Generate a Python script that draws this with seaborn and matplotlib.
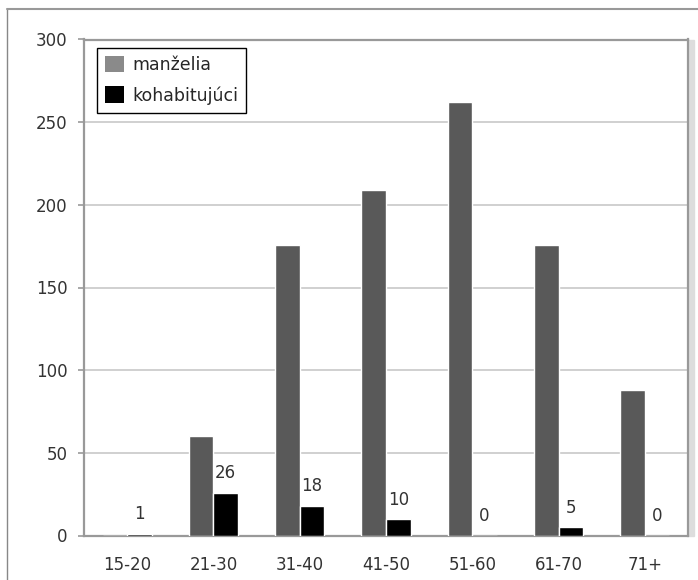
import pandas as pd
import seaborn as sns
import matplotlib.pyplot as plt
from matplotlib.patches import Patch, Rectangle
from matplotlib.lines import Line2D

# data
vek = ["15-20", "21-30", "31-40", "41-50", "51-60", "61-70", "71+"]
manzelia = [0, 60, 176, 209, 262, 176, 88]
kohabitujuci = [1, 26, 18, 10, 0, 5, 0]
skupiny = ["manželia", "kohabitujúci"]

df = pd.DataFrame({
    "vek": vek * 2,
    "pocet": manzelia + kohabitujuci,
    "skupina": [skupiny[0]] * len(vek) + [skupiny[1]] * len(vek),
})

sns.set_style("white")
plt.rcParams["font.family"] = ["DejaVu Sans"]

fig = plt.figure(figsize=(6.98, 5.80), dpi=100)
ax = fig.add_axes([84 / 698, 44.5 / 580, 604 / 698, 496 / 580])

sns.barplot(data=df, x="vek", y="pocet", hue="skupina", order=vek,
            hue_order=skupiny, palette=["#595959", "#000000"],
            saturation=1, width=0.57, legend=False, ax=ax, zorder=3)

ax.set_ylim(0, 300)
ax.set_xlim(-0.5, len(vek) - 0.5)
ax.set_yticks(range(0, 301, 50))
ax.set_xlabel("")
ax.set_ylabel("")
ax.yaxis.grid(True, color="#c8c8c8", linewidth=1.2, zorder=0)
ax.set_axisbelow(True)

for side in ["left", "bottom", "top", "right"]:
    ax.spines[side].set_color("#999999")
    ax.spines[side].set_linewidth(1.6)

ax.tick_params(axis="y", left=True, length=4, width=1.2, color="#999999",
               pad=8, labelsize=12, labelcolor="#333333")
ax.tick_params(axis="x", bottom=False, pad=11, labelsize=12, labelcolor="#333333")

# value labels above the black bars
for bar, val in zip(ax.containers[1], kohabitujuci):
    ax.annotate(str(val), (bar.get_x() + bar.get_width() / 2, bar.get_height()),
                xytext=(0, 14), textcoords="offset points", ha="center",
                va="center", fontsize=12, color="#333333")

handles = [Patch(facecolor="#8a8a8a", edgecolor="none"),
           Patch(facecolor="#000000", edgecolor="none")]
leg = ax.legend(handles, skupiny, loc="upper left",
                bbox_to_anchor=(13 / 604, (535.5 - 48) / 496), borderaxespad=0,
                fontsize=12.5, frameon=True, fancybox=False, framealpha=1,
                handlelength=1.1, handleheight=1.1, handletextpad=0.5,
                labelspacing=0.7, borderpad=0.45)
leg.get_frame().set_edgecolor("black")
leg.get_frame().set_linewidth(1.0)

# outer frame and shadow on the right edge
fig.add_artist(Line2D([7.5 / 698, 7.5 / 698], [0, 1 - 9 / 580], color="#888888", linewidth=1))
fig.add_artist(Line2D([7.5 / 698, 1], [1 - 9 / 580, 1 - 9 / 580], color="#999999", linewidth=1.5))
fig.add_artist(Rectangle((689 / 698, 44.5 / 580), 5 / 698, 496 / 580,
                         transform=fig.transFigure, color="#dddddd", zorder=0))

fig.savefig("out.png", dpi=100)
